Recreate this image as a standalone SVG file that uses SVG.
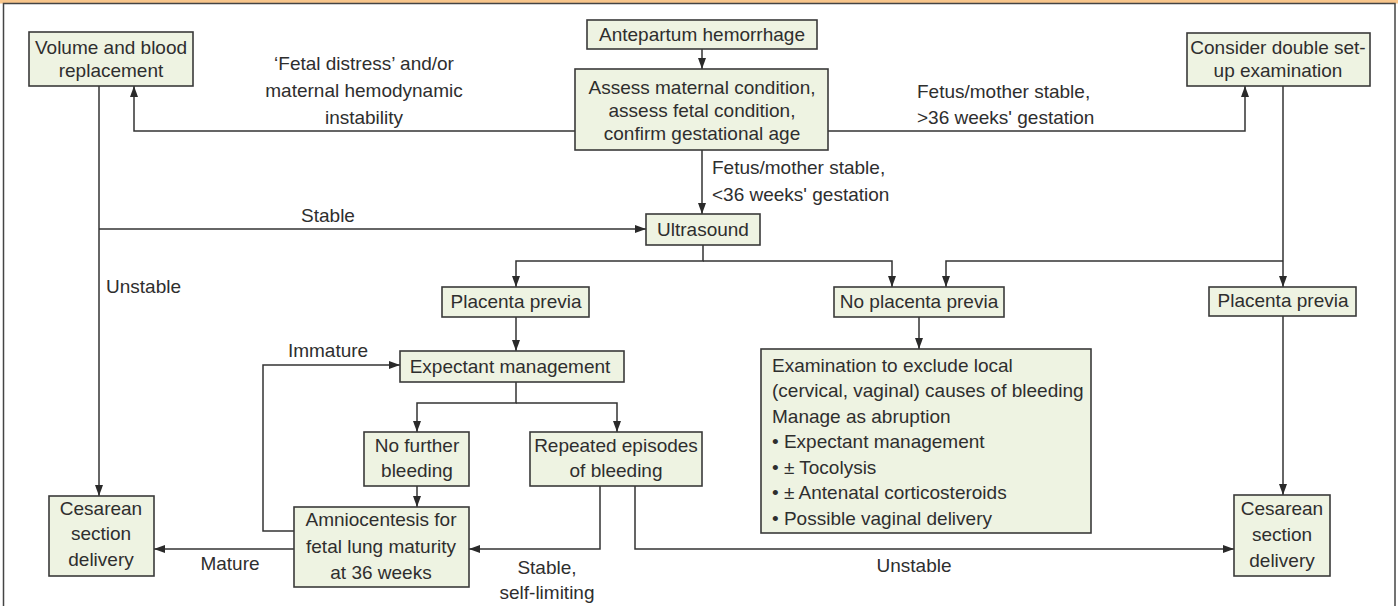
<svg xmlns="http://www.w3.org/2000/svg" width="1398" height="606" viewBox="0 0 1398 606">
<style>
.box{fill:#eef3e2;stroke:#3a3a3a;stroke-width:1.6}
.t{font-family:"Liberation Sans",Arial,sans-serif;font-size:19px;fill:#2e2e2e}
.c{text-anchor:middle}
.ln{fill:none;stroke:#333;stroke-width:1.5}
</style>
<defs>
<marker id="ah" markerUnits="userSpaceOnUse" markerWidth="11" markerHeight="8" refX="11" refY="4" orient="auto">
<path d="M0,0 L11,4 L0,8 z" fill="#2a2a2a"/>
</marker>
</defs>
<rect x="0" y="0" width="1398" height="3.5" fill="#f8c68c"/>
<rect x="3.5" y="3.5" width="1391.5" height="610" fill="#fff" stroke="#444" stroke-width="1.5"/>

<g id="connectors" class="ln">
<path d="M702,49 V69" marker-end="url(#ah)"/>
<path d="M575,131 H134 V86" marker-end="url(#ah)"/>
<path d="M828,131 H1245 V86" marker-end="url(#ah)"/>
<path d="M702,150 V214" marker-end="url(#ah)"/>
<path d="M99,86 V496" marker-end="url(#ah)"/>
<path d="M99,229 H646" marker-end="url(#ah)"/>
<path d="M703,245 V261 H516 V287" marker-end="url(#ah)"/>
<path d="M703,261 H892 V287" marker-end="url(#ah)"/>
<path d="M1283,86 V287" marker-end="url(#ah)"/>
<path d="M1283,261 H946 V287" marker-end="url(#ah)"/>
<path d="M919,317 V349" marker-end="url(#ah)"/>
<path d="M1283,316 V495" marker-end="url(#ah)"/>
<path d="M516,317 V351" marker-end="url(#ah)"/>
<path d="M516,382 V403 H417 V432" marker-end="url(#ah)"/>
<path d="M516,403 H617 V432" marker-end="url(#ah)"/>
<path d="M417,486 V507" marker-end="url(#ah)"/>
<path d="M294,531 H263 V365 H400" marker-end="url(#ah)"/>
<path d="M294,549 H154" marker-end="url(#ah)"/>
<path d="M600,486 V549 H469" marker-end="url(#ah)"/>
<path d="M635,486 V549 H1234" marker-end="url(#ah)"/>
</g>

<g id="labels" class="t">
<text class="c" x="364" y="70">‘Fetal distress’ and/or</text>
<text class="c" x="364" y="97">maternal hemodynamic</text>
<text class="c" x="364" y="124">instability</text>
<text x="917" y="98">Fetus/mother stable,</text>
<text x="917" y="124">&gt;36 weeks' gestation</text>
<text x="712" y="174">Fetus/mother stable,</text>
<text x="712" y="201">&lt;36 weeks' gestation</text>
<text class="c" x="328" y="222">Stable</text>
<text x="106" y="293">Unstable</text>
<text class="c" x="328" y="357">Immature</text>
<text class="c" x="230" y="570">Mature</text>
<text class="c" x="547" y="574">Stable,</text>
<text class="c" x="547" y="599">self-limiting</text>
<text class="c" x="914" y="572">Unstable</text>
</g>

<g id="n-antepartum">
<rect class="box" x="587" y="20" width="230" height="29"/>
<text class="t c" x="702" y="41">Antepartum hemorrhage</text>
</g>
<g id="n-assess">
<rect class="box" x="575" y="69" width="253" height="81"/>
<text class="t c" x="702" y="94">Assess maternal condition,</text>
<text class="t c" x="702" y="117">assess fetal condition,</text>
<text class="t c" x="702" y="140">confirm gestational age</text>
</g>
<g id="n-volume">
<rect class="box" x="29" y="32" width="164" height="54"/>
<text class="t c" x="111" y="54">Volume and blood</text>
<text class="t c" x="111" y="77">replacement</text>
</g>
<g id="n-consider">
<rect class="box" x="1187" y="33" width="183" height="53"/>
<text class="t c" x="1278" y="54">Consider double set-</text>
<text class="t c" x="1278" y="77">up examination</text>
</g>
<g id="n-ultrasound">
<rect class="box" x="646" y="214" width="114" height="31"/>
<text class="t c" x="703" y="236">Ultrasound</text>
</g>
<g id="n-previa-left">
<rect class="box" x="442" y="287" width="147" height="30"/>
<text class="t c" x="516" y="308">Placenta previa</text>
</g>
<g id="n-no-previa">
<rect class="box" x="834" y="287" width="170" height="30"/>
<text class="t c" x="919" y="308">No placenta previa</text>
</g>
<g id="n-previa-right">
<rect class="box" x="1209" y="287" width="147" height="29"/>
<text class="t c" x="1283" y="307">Placenta previa</text>
</g>
<g id="n-expectant">
<rect class="box" x="400" y="351" width="224" height="31"/>
<text class="t c" x="510" y="373">Expectant management</text>
</g>
<g id="n-nofurther">
<rect class="box" x="364" y="432" width="105" height="54"/>
<text class="t c" x="417" y="452">No further</text>
<text class="t c" x="417" y="477">bleeding</text>
</g>
<g id="n-repeated">
<rect class="box" x="530" y="432" width="172" height="54"/>
<text class="t c" x="616" y="452">Repeated episodes</text>
<text class="t c" x="616" y="477">of bleeding</text>
</g>
<g id="n-amnio">
<rect class="box" x="294" y="507" width="175" height="80"/>
<text class="t c" x="381" y="526">Amniocentesis for</text>
<text class="t c" x="381" y="553">fetal lung maturity</text>
<text class="t c" x="381" y="579">at 36 weeks</text>
</g>
<g id="n-cesarean-left">
<rect class="box" x="49" y="496" width="105" height="80"/>
<text class="t c" x="101" y="515">Cesarean</text>
<text class="t c" x="101" y="540">section</text>
<text class="t c" x="101" y="566">delivery</text>
</g>
<g id="n-exam">
<rect class="box" x="761" y="349" width="330" height="184"/>
<text class="t" x="772" y="372">Examination to exclude local</text>
<text class="t" x="772" y="397">(cervical, vaginal) causes of bleeding</text>
<text class="t" x="772" y="423">Manage as abruption</text>
<text class="t" x="772" y="448">• Expectant management</text>
<text class="t" x="772" y="474">• ± Tocolysis</text>
<text class="t" x="772" y="499">• ± Antenatal corticosteroids</text>
<text class="t" x="772" y="525">• Possible vaginal delivery</text>
</g>
<g id="n-cesarean-right">
<rect class="box" x="1234" y="495" width="96" height="81"/>
<text class="t c" x="1282" y="515">Cesarean</text>
<text class="t c" x="1282" y="541">section</text>
<text class="t c" x="1282" y="567">delivery</text>
</g>
</svg>
